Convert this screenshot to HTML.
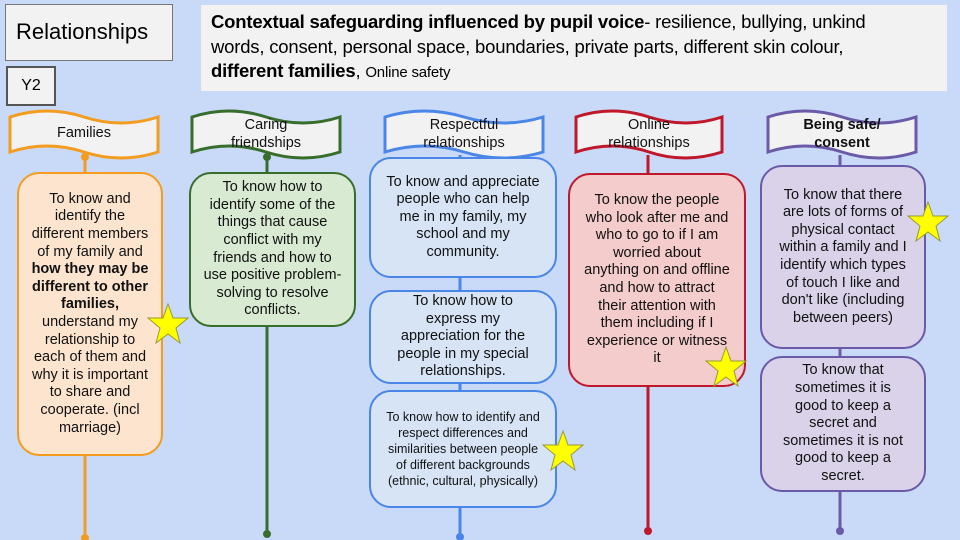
<!DOCTYPE html>
<html><head><meta charset="utf-8"><style>
body{margin:0;width:960px;height:540px;background:#c9daf8;position:relative;overflow:hidden;font-family:"Liberation Sans",sans-serif;}
.a{position:absolute;box-sizing:border-box;}
.box{position:absolute;box-sizing:border-box;border:2px solid;border-radius:22px;display:flex;align-items:center;justify-content:center;text-align:center;font-size:14.5px;line-height:17.6px;color:#111;padding:0 7px;}
.lab{position:absolute;text-align:center;font-size:14.5px;line-height:18px;color:#111;display:flex;align-items:center;justify-content:center;}
svg{position:absolute;left:0;top:0;}
</style></head><body>
<svg width="960" height="540">
<g stroke-width="3">
<line x1="85" y1="155" x2="85" y2="545" stroke="#f39c1f"/>
<line x1="267" y1="155" x2="267" y2="535" stroke="#386e2c"/>
<line x1="460" y1="155" x2="460" y2="545" stroke="#4a86e8"/>
<line x1="648" y1="155" x2="648" y2="531" stroke="#c0172a"/>
<line x1="840" y1="155" x2="840" y2="531" stroke="#6a5aa8"/>
</g>
<circle cx="85" cy="157" r="4" fill="#f39c1f"/><circle cx="267" cy="157" r="4" fill="#386e2c"/>
<circle cx="267" cy="534" r="4" fill="#386e2c"/><circle cx="648" cy="531" r="4" fill="#c0172a"/><circle cx="840" cy="531" r="4" fill="#6a5aa8"/>
<circle cx="460" cy="537" r="4" fill="#4a86e8"/><circle cx="85" cy="538" r="4" fill="#f39c1f"/>
<g fill="#f2f2f2" stroke-width="3">
<path d="M10,117 Q47,105 84,117 T158,117 L158,152 Q121,164 84,152 T10,152 Z" stroke="#f39c1f"/>
<path d="M192,117 Q229,105 266,117 T340,117 L340,152 Q303,164 266,152 T192,152 Z" stroke="#386e2c"/>
<path d="M385,117 Q424,105 464,117 T543,117 L543,152 Q503,164 464,152 T385,152 Z" stroke="#4a86e8"/>
<path d="M576,117 Q612,105 649,117 T722,117 L722,152 Q685,164 649,152 T576,152 Z" stroke="#c0172a"/>
<path d="M768,117 Q805,105 842,117 T916,117 L916,152 Q879,164 842,152 T768,152 Z" stroke="#6a5aa8"/>
</g>
</svg>
<div class="a" style="left:5px;top:4px;width:168px;height:57px;background:#f2f2f2;border:1.5px solid #777;font-size:22px;padding:14px 0 0 10px;">Relationships</div>
<div class="a" style="left:6px;top:66px;width:50px;height:40px;background:#f2f2f2;border:2px solid #555;font-size:16px;text-align:center;line-height:36px;">Y2</div>
<div class="a" style="left:201px;top:5px;width:746px;height:86px;background:#f2f2f2;padding:5px 10px;font-size:18.5px;line-height:24.5px;white-space:nowrap;letter-spacing:-0.2px;"><b>Contextual safeguarding influenced by pupil voice</b>- resilience, bullying, unkind<br>words, consent, personal space, boundaries, private parts, different skin colour,<br><b>different families</b>, <span style="font-size:15px">Online safety</span></div>
<div class="lab" style="left:10px;top:117px;width:148px;height:32px;">Families</div>
<div class="lab" style="left:192px;top:116px;width:148px;height:36px;">Caring<br>friendships</div>
<div class="lab" style="left:385px;top:116px;width:158px;height:36px;">Respectful<br>relationships</div>
<div class="lab" style="left:576px;top:116px;width:146px;height:36px;">Online<br>relationships</div>
<div class="lab" style="left:768px;top:116px;width:148px;height:36px;font-weight:bold;">Being safe/<br>consent</div>
<div class="box" style="left:17px;top:172px;width:146px;height:284px;background:#fde4cf;border-color:#f39c1f;padding:0 10px;"><span>To know and identify the different members of my family and <b>how they may be different to other families,</b> understand my relationship to each of them and why it is important to share and cooperate. (incl marriage)</span></div>
<div class="box" style="left:189px;top:172px;width:167px;height:155px;background:#d9ead3;border-color:#386e2c;padding:0 12px;"><span>To know how to identify some of the things that cause conflict with my friends and how to use positive problem-solving to resolve conflicts.</span></div>
<div class="box" style="left:369px;top:157px;width:188px;height:121px;background:#d6e4f6;border-color:#4a86e8;padding:0 14px;"><span>To know and appreciate people who can help me in my family, my school and my community.</span></div>
<div class="box" style="left:369px;top:290px;width:188px;height:94px;background:#d6e4f6;border-color:#4a86e8;padding:0 18px;"><span>To know how to express my appreciation for the people in my special relationships.</span></div>
<div class="box" style="left:369px;top:390px;width:188px;height:118px;background:#d6e4f6;border-color:#4a86e8;font-size:12.5px;line-height:16px;padding:0 14px;"><span>To know how to identify and respect differences and similarities between people of different backgrounds (ethnic, cultural, physically)</span></div>
<div class="box" style="left:568px;top:173px;width:178px;height:214px;background:#f4cccc;border-color:#c0172a;padding:0 14px;"><span>To know the people who look after me and who to go to if I am worried about anything on and offline and how to attract their attention with them including if I experience or witness it</span></div>
<div class="box" style="left:760px;top:165px;width:166px;height:184px;background:#d9d2e9;border-color:#6a5aa8;padding:0 12px;"><span>To know that there are lots of forms of physical contact within a family and I identify which types of touch I like and don't like (including between peers)</span></div>
<div class="box" style="left:760px;top:356px;width:166px;height:136px;background:#d9d2e9;border-color:#6a5aa8;padding:0 16px;"><span>To know that sometimes it is good to keep a secret and sometimes it is not good to keep a secret.</span></div>
<svg width="960" height="540" style="pointer-events:none">
<g fill="#ffff00" stroke="#999933" stroke-width="1">
<polygon points="0,-21 5,-7 20,-7 8,3 12,18 0,9 -12,18 -8,3 -20,-7 -5,-7" transform="translate(168,325)"/>
<polygon points="0,-21 5,-7 20,-7 8,3 12,18 0,9 -12,18 -8,3 -20,-7 -5,-7" transform="translate(563,452)"/>
<polygon points="0,-21 5,-7 20,-7 8,3 12,18 0,9 -12,18 -8,3 -20,-7 -5,-7" transform="translate(726,368)"/>
<polygon points="0,-21 5,-7 20,-7 8,3 12,18 0,9 -12,18 -8,3 -20,-7 -5,-7" transform="translate(928,223)"/>
</g></svg>
</body></html>
